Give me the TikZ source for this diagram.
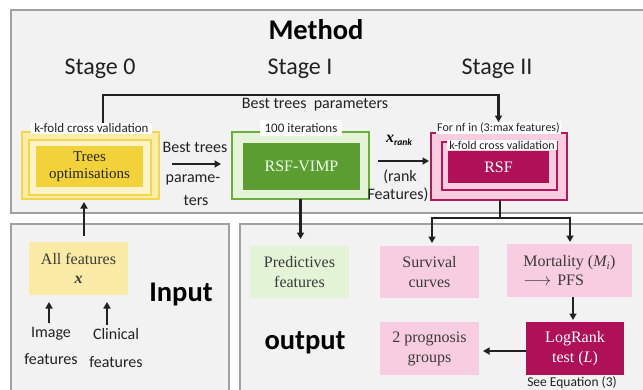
\documentclass[tikz,border=0pt]{standalone}
\usepackage{fontspec}
\setmainfont{Liberation Serif}
\newfontfamily\calib{Carlito}
\usetikzlibrary{arrows.meta}
\definecolor{panelbg}{HTML}{F2F2F2}
\definecolor{panelline}{HTML}{A0A0A0}
\definecolor{ybord}{HTML}{F4D64A}
\definecolor{yband}{HTML}{FBEDA8}
\definecolor{ymid}{HTML}{FCF3C9}
\definecolor{ydark}{HTML}{F2D23A}
\definecolor{gbord}{HTML}{6AAE3C}
\definecolor{glight}{HTML}{E5F3D8}
\definecolor{gdark}{HTML}{5B9D30}
\definecolor{pbord}{HTML}{B5175D}
\definecolor{plight}{HTML}{F9CCE0}
\definecolor{pdark}{HTML}{AF1158}
\definecolor{ink}{HTML}{222222}
\definecolor{boxtext}{HTML}{3A3A3A}
\definecolor{outgreen}{HTML}{E3F4D7}
\definecolor{outpink}{HTML}{F9CDE1}
\definecolor{allfeat}{HTML}{F9EBA6}
\begin{document}
\begin{tikzpicture}[x=1pt,y=-1pt,
  panel/.style={draw=panelline, line width=1.2pt, fill=panelbg},
  box/.style 2 args={minimum width=#1, minimum height=#2, inner sep=0pt, outer sep=0pt},
  conn/.style={draw=ink, line width=2.2pt},
  arr/.style={conn, -{Triangle[length=6.5pt,width=7pt]}},
  serif/.style={font=\fontsize{16}{20}\selectfont, text=boxtext, align=center},
  sans/.style={font=\calib\fontsize{16}{20}\selectfont, text=ink, align=center},
  tag/.style={fill=white, inner xsep=3pt, inner ysep=1pt, font=\calib\fontsize{13}{13}\selectfont, text=ink},
  title/.style={font=\calib\bfseries\fontsize{28.5}{30}\selectfont, text=black},
  stage/.style={font=\calib\fontsize{24}{26}\selectfont, text=ink},
]
\useasboundingbox (0,0) rectangle (643,389);
\clip (0,0) rectangle (643,389);

% panels
\path[panel] (11,10) rectangle (660,213);
\path[panel] (11,224) rectangle (229,400);
\path[panel] (240,224) rectangle (660,400);

% titles
\node[title] (method) at (316,30) {Method};
\node[stage] (s0) at (100,69) {Stage 0};
\node[stage] (s1) at (300,69) {Stage I};
\node[stage] (s2) at (497,69) {Stage II};

% Stage 0
\node[box={137}{67}, draw=ybord, line width=1.5pt, fill=yband] (yout) at (90.5,165.5) {};
\node[box={122}{55}, draw=ybord, line width=1.5pt, fill=ymid] (ymidn) at (90,167.5) {};
\node[box={107}{41}, fill=ydark, serif, text=black!85, font=\fontsize{15}{17}\selectfont] (trees) at (89.5,166.5) {Trees\\optimisations};
\node[tag] (kfold1) at (91.5,128.5) {k-fold cross validation};

% Stage I
\node[box={137}{67}, draw=gbord, line width=1.5pt, fill=glight] (gout) at (300.5,165.5) {};
\node[box={117}{47}, fill=gdark, serif, text=white!92!green] (vimp) at (301.5,166.5) {RSF-VIMP};
\node[tag, inner xsep=4.5pt, inner ysep=3pt] (iter) at (301,128) {100 iterations};

% Stage II
\node[box={136}{67}, draw=pbord, line width=1.5pt, fill=plight] (pout) at (499,166.5) {};
\node[box={115}{48}, draw=pbord, line width=1.5pt, fill=plight] (pmid) at (499.5,166) {};
\node[box={101}{32}, fill=pdark, serif, text=white] (rsf) at (498.5,167) {RSF};
\node[tag, font=\calib\fontsize{12}{12}\selectfont, inner ysep=0.5pt, inner xsep=1.5pt] (fornf) at (498.5,128) {For nf in (3:max features)};
\node[tag, font=\calib\fontsize{12}{12}\selectfont, inner ysep=1pt, inner xsep=2pt] (kfold2) at (502,145) {k-fold cross validation};

% top connector
\coordinate (topL) at (103,95);
\coordinate (topR) at (498.5,95);
\draw[arr] ([xshift=11.5pt]kfold1.north) -- (topL) -- (topR) -- (fornf.north);
\node[sans] (btp) at (315,105) {Best trees~~parameters};

% Stage 0 -> I
\node[sans] (bt1) at (195,147) {Best trees};
\node[sans] (bt2) at (193,180) {parame-};
\node[sans] (bt3) at (196,200) {ters};
\draw[arr] ([xshift=13pt,yshift=1.5pt]yout.east) -- ([xshift=-11pt,yshift=1.5pt]gout.west);

% Stage I -> II
\node (xr) at (399,140) {\fontsize{16}{16}\selectfont\bfseries\itshape x\raisebox{-3pt}{\calib\fontsize{9.5}{10}\selectfont rank}};
\node[sans] (rk1) at (400,177) {(rank};
\node[sans] (rk2) at (398,195) {Features)};
\draw[arr] ([xshift=9pt,yshift=4.5pt]gout.east) -- ([xshift=-2pt,yshift=5.5pt]pout.west);

% Input
\node[box={99}{53}, fill=allfeat, serif] (allf) at (78.5,268.5) {All features\\[-1pt]\textbf{\textit{x}}};
\node[title] (inp) at (181,294) {Input};
\node[sans, font=\calib\fontsize{16}{27}\selectfont] (img) at (51,345.5) {Image\\features};
\node[sans, font=\calib\fontsize{16}{28}\selectfont] (clin) at (116,348) {Clinical\\features};
\draw[arr, shorten <=6pt, shorten >=3pt] ([xshift=5.5pt]allf.north) -- ([xshift=5.5pt]allf.north |- yout.south);
\draw[arr, shorten >=7pt] ([xshift=-2pt]img.north) -- ([xshift=-2pt]img.north |- allf.south);
\draw[arr, shorten >=7pt] ([xshift=-9pt]clin.north) -- ([xshift=-9pt]clin.north |- allf.south);

% Output
\node[title] (outp) at (305,343) {output};
\node[box={99}{52}, fill=outgreen, serif] (pred) at (299.5,272) {Predictives\\features};
\node[box={99}{52}, fill=outpink, serif] (surv) at (429.5,272) {Survival\\curves};
\node[box={125}{53}, fill=outpink, serif, align=left] (mort) at (569.5,270.5) {Mortality (\textit{M\textsubscript{i}})\\[-1pt]$\longrightarrow$\hspace{6pt}PFS};
\node[box={98}{53}, fill=pdark, serif, text=white] (lr) at (575,348.5) {LogRank\\test (\textit{L})};
\node[box={99}{53}, fill=outpink, serif] (prog) at (429.5,348.5) {2 prognosis\\groups};
\node[sans, font=\calib\fontsize{13.5}{14}\selectfont] (seeq) at (572,383) {See Equation (3)};

\draw[arr, shorten >=7pt] (gout.south) -- (gout.south |- pred.north);
\coordinate (brL) at (432,218);
\coordinate (brR) at (570,218);
\draw[conn] ([xshift=1pt]pout.south) -- ([xshift=1pt]pout.south |- brL);
\draw[arr, shorten >=3pt] (brR) -- (brL) -- (brL |- surv.north);
\draw[arr, shorten >=2pt] (brL) -- (brR) -- (brR |- mort.north);
\draw[arr, shorten >=2pt] ([xshift=3.5pt]mort.south) -- ([xshift=3.5pt]mort.south |- lr.north);
\draw[arr, shorten >=4pt] ([yshift=-2.5pt]lr.west) -- ([yshift=-2.5pt]lr.west -| prog.east);
\end{tikzpicture}
\end{document}
